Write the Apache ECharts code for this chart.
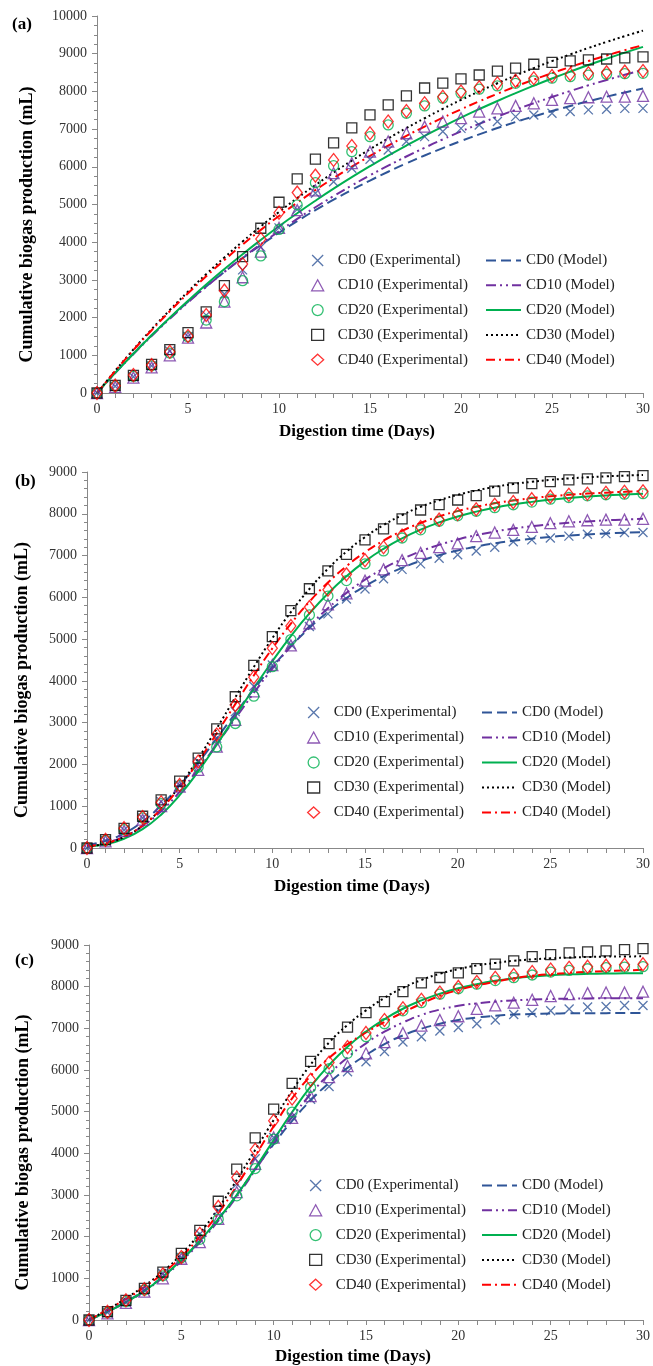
<!DOCTYPE html>
<html>
<head>
<meta charset="utf-8">
<title>Cumulative biogas production</title>
<script src="https://cdn.jsdelivr.net/npm/echarts@6/dist/echarts.min.js"></script>
<style>
html, body { margin: 0; padding: 0; background: #fff; }
#main { width: 653px; height: 1366px; }
</style>
</head>
<body>
<div id="main"></div>
<script>
var days = [0,1,2,3,4,5,6,7,8,9,10,11,12,13,14,15,16,17,18,19,20,21,22,23,24,25,26,27,28,29,30];
var groups = ['CD0', 'CD10', 'CD20', 'CD30', 'CD40'];
var panelLabels = ['(a)', '(b)', '(c)'];
var yMaxes = [10000, 9000, 9000];

// experimental points (same in all three panels)
var expCD0 = [0,180,430,720,1110,1500,2065,2625,3265,3870,4380,4870,5300,5605,5960,6200,6445,6670,6800,6935,7020,7110,7200,7330,7375,7420,7465,7510,7525,7550,7550];
var expCD10 = [0,160,410,680,1000,1470,1870,2425,3070,3750,4380,4850,5375,5830,6095,6400,6670,6890,7065,7200,7290,7465,7550,7615,7685,7775,7820,7845,7860,7860,7880];
var expCD20 = [0,180,440,720,1060,1495,1935,2420,2980,3635,4340,4990,5580,6030,6400,6800,7110,7420,7615,7820,7950,8060,8145,8215,8280,8350,8390,8430,8455,8470,8480];
var expCD30 = [0,200,470,760,1150,1600,2150,2850,3620,4370,5060,5680,6205,6635,7030,7375,7640,7880,8090,8220,8330,8435,8540,8620,8720,8770,8810,8835,8860,8890,8914];
var expCD40 = [0,195,475,740,1095,1510,2070,2715,3420,4085,4780,5315,5766,6180,6550,6890,7200,7480,7685,7860,7995,8110,8215,8280,8350,8410,8455,8480,8505,8525,8540];

// (a) model
var modACD0 = [0,539,1049,1531,1987,2419,2827,3213,3578,3923,4250,4559,4851,5127,5388,5635,5869,6090,6300,6497,6684,6861,7029,7187,7337,7478,7612,7739,7859,7972,8079];
var modACD10 = [0,528,1031,1511,1968,2403,2818,3213,3590,3949,4290,4617,4927,5223,5505,5773,6029,6273,6505,6727,6938,7139,7330,7513,7687,7852,8010,8161,8304,8440,8571];
var modACD20 = [0,532,1042,1530,1998,2446,2876,3287,3682,4060,4422,4768,5100,5419,5724,6016,6296,6564,6821,7067,7303,7529,7746,7953,8152,8343,8525,8700,8867,9028,9182];
var modACD30 = [0,590,1154,1690,2201,2688,3153,3595,4017,4419,4803,5168,5516,5848,6164,6466,6753,7027,7288,7537,7774,8000,8216,8421,8617,8804,8981,9151,9312,9466,9613];
var modACD40 = [0,584,1139,1666,2168,2644,3097,3528,3937,4327,4696,5048,5382,5700,6002,6288,6561,6821,7067,7302,7524,7736,7938,8129,8311,8484,8648,8805,8953,9094,9228];

// (b) model
var modBCD0 = [69,170,352,634,1020,1497,2042,2625,3218,3794,4334,4827,5267,5653,5985,6268,6506,6705,6872,7009,7122,7215,7291,7354,7404,7446,7479,7506,7529,7547,7561];
var modBCD10 = [47,125,276,525,882,1342,1885,2482,3100,3711,4292,4829,5311,5737,6106,6422,6689,6913,7101,7255,7383,7488,7574,7645,7702,7749,7787,7818,7843,7863,7880];
var modBCD20 = [31,91,221,450,798,1265,1834,2474,3149,3823,4471,5072,5614,6093,6507,6862,7162,7413,7621,7793,7935,8051,8146,8223,8285,8336,8377,8411,8438,8459,8477];
var modBCD30 = [35,108,263,537,947,1491,2143,2861,3604,4333,5021,5646,6200,6683,7094,7441,7730,7968,8164,8323,8453,8558,8643,8712,8766,8810,8846,8873,8896,8914,8929];
var modBCD40 = [40,116,272,541,936,1454,2069,2745,3443,4130,4777,5368,5895,6353,6747,7080,7359,7590,7780,7937,8064,8168,8252,8320,8375,8419,8455,8483,8506,8525,8540];

// (c) model
var modCCD0 = [0,210,440,710,1040,1440,1900,2420,3000,3620,4220,4780,5270,5690,6050,6360,6620,6830,6990,7110,7200,7260,7300,7330,7345,7355,7360,7363,7365,7366,7366];
var modCCD10 = [0,200,420,690,1020,1410,1860,2380,2960,3600,4260,4870,5420,5900,6300,6640,6920,7140,7320,7450,7540,7600,7640,7670,7690,7703,7712,7718,7721,7723,7725];
var modCCD20 = [0,200,430,700,1040,1440,1900,2420,3000,3640,4320,4990,5600,6120,6560,6920,7220,7470,7670,7830,7960,8060,8140,8200,8245,8275,8295,8308,8316,8320,8323];
var modCCD30 = [0,250,520,820,1160,1580,2080,2680,3360,4080,4800,5500,6130,6660,7080,7430,7730,7970,8160,8310,8420,8510,8570,8620,8655,8680,8700,8712,8720,8725,8728];
var modCCD40 = [0,250,500,790,1120,1520,2000,2560,3220,3940,4650,5320,5860,6290,6620,6900,7150,7380,7590,7780,7920,8030,8120,8200,8260,8300,8330,8355,8375,8390,8405];

var expData = [expCD0, expCD10, expCD20, expCD30, expCD40];
var modelData = [
	[modACD0, modACD10, modACD20, modACD30, modACD40],
	[modBCD0, modBCD10, modBCD20, modBCD30, modBCD40],
	[modCCD0, modCCD10, modCCD20, modCCD30, modCCD40]
];

var colors = ['#2F5597', '#7030A0', '#00B050', '#000000', '#FF0000'];
var symbols = ['path://M0,0L10,10M0,10L10,0', 'triangle', 'circle', 'rect', 'diamond'];
var symbolSizes = [9, 11, 10, 10, [10, 13]];
var dashes = [[10, 5], [10, 4, 2, 4, 2, 4], 'solid', [2, 3], [9, 4, 2, 4]];

var font = "'Liberation Serif', 'Times New Roman', serif";

// plot areas [left, top, width, height] and legend rows
var boxes = [[97, 16, 546, 377], [87, 472, 558, 376], [89, 945, 557, 376]];
var legendTops = [253, 705, 1178];
var legendLefts = [[311, 485], [307, 481], [309, 481]];
var legendGaps = [9.8, 10, 9.8];
var minorY = [4, 5, 5];
var xNameGap = [30, 30, 28];
var yNameGap = [61, 56, 57];
var labelPos = [[12, 16], [15, 473], [15, 952]];

function pairs(xs, ys) {
	var out = [];
	for (var i = 0; i < xs.length; i++) {
		out.push([xs[i], ys[i]]);
	}
	return out;
}

var expNames = [];
var modNames = [];
for (var i = 0; i < groups.length; i++) {
	expNames.push(groups[i] + ' (Experimental)');
	modNames.push(groups[i] + ' (Model)');
}

var grid = [], xAxis = [], yAxis = [], series = [], legend = [], title = [];

for (var p = 0; p < 3; p++) {
	var b = boxes[p];
	grid.push({ left: b[0], top: b[1], width: b[2], height: b[3] });
	title.push({
		text: panelLabels[p],
		left: labelPos[p][0],
		top: labelPos[p][1],
		padding: 0,
		textStyle: { fontFamily: font, fontSize: 17, fontWeight: 'bold', color: '#000' }
	});
	xAxis.push({
		type: 'value',
		gridIndex: p,
		min: 0,
		max: 30,
		interval: 5,
		name: 'Digestion time (Days)',
		nameLocation: 'middle',
		nameGap: xNameGap[p],
		nameTextStyle: { fontFamily: font, fontSize: 17, fontWeight: 'bold', color: '#000', padding: [0, 26, 0, 0] },
		axisLine: { lineStyle: { color: '#888', width: 1 } },
		axisTick: { length: 5, lineStyle: { color: '#888' } },
		minorTick: { show: true, splitNumber: 5, length: 5, lineStyle: { color: '#888' } },
		axisLabel: { fontFamily: font, fontSize: 14, color: '#333', margin: 9 },
		splitLine: { show: false }
	});
	yAxis.push({
		type: 'value',
		gridIndex: p,
		min: 0,
		max: yMaxes[p],
		interval: 1000,
		name: 'Cumulative biogas production (mL)',
		nameLocation: 'middle',
		nameGap: yNameGap[p],
		nameTextStyle: { fontFamily: font, fontSize: 18, fontWeight: 'bold', color: '#000', padding: [0, 40, 0, 0] },
		axisLine: { show: true, lineStyle: { color: '#888', width: 1 } },
		axisTick: { show: true, length: 5, lineStyle: { color: '#888' } },
		minorTick: { show: true, splitNumber: minorY[p], length: 3, lineStyle: { color: '#888' } },
		axisLabel: {
			fontFamily: font, fontSize: 14, color: '#333', margin: 10,
			formatter: function (v) { return String(v); }
		},
		splitLine: { show: false }
	});

	for (var i = 0; i < groups.length; i++) {
		series.push({
			name: modNames[i],
			type: 'line',
			xAxisIndex: p,
			yAxisIndex: p,
			data: pairs(days, modelData[p][i]),
			symbol: 'none',
			showSymbol: false,
			smooth: true,
			color: colors[i],
			lineStyle: { color: colors[i], width: 2, type: dashes[i] },
			z: 2
		});
		series.push({
			name: expNames[i],
			type: 'scatter',
			xAxisIndex: p,
			yAxisIndex: p,
			data: pairs(days, expData[i]),
			symbol: symbols[i],
			symbolSize: symbolSizes[i],
			color: colors[i],
			itemStyle: { color: 'rgba(0,0,0,0)', borderColor: colors[i], borderWidth: 1.3 },
			z: 3
		});
	}

	// square icon box; the extra left padding pushes the text to where the reference has it
	legend.push({
		data: expNames,
		orient: 'vertical',
		left: legendLefts[p][0],
		top: legendTops[p],
		padding: 0,
		itemWidth: 12,
		itemHeight: 11,
		itemGap: legendGaps[p],
		itemStyle: { borderWidth: 1.3 },
		textStyle: { fontFamily: font, fontSize: 15, color: '#222', padding: [0, 0, 0, 9] }
	});
	legend.push({
		data: modNames,
		orient: 'vertical',
		left: legendLefts[p][1],
		top: legendTops[p],
		padding: 0,
		itemWidth: 35,
		itemHeight: 11,
		itemGap: legendGaps[p],
		itemStyle: { opacity: 0 },
		textStyle: { fontFamily: font, fontSize: 15, color: '#222' }
	});
}

var myChart = echarts.init(document.getElementById('main'));
var option = {
	backgroundColor: '#fff',
	animation: false,
	title: title,
	grid: grid,
	xAxis: xAxis,
	yAxis: yAxis,
	legend: legend,
	series: series
};
myChart.setOption(option);
</script>
</body>
</html>
